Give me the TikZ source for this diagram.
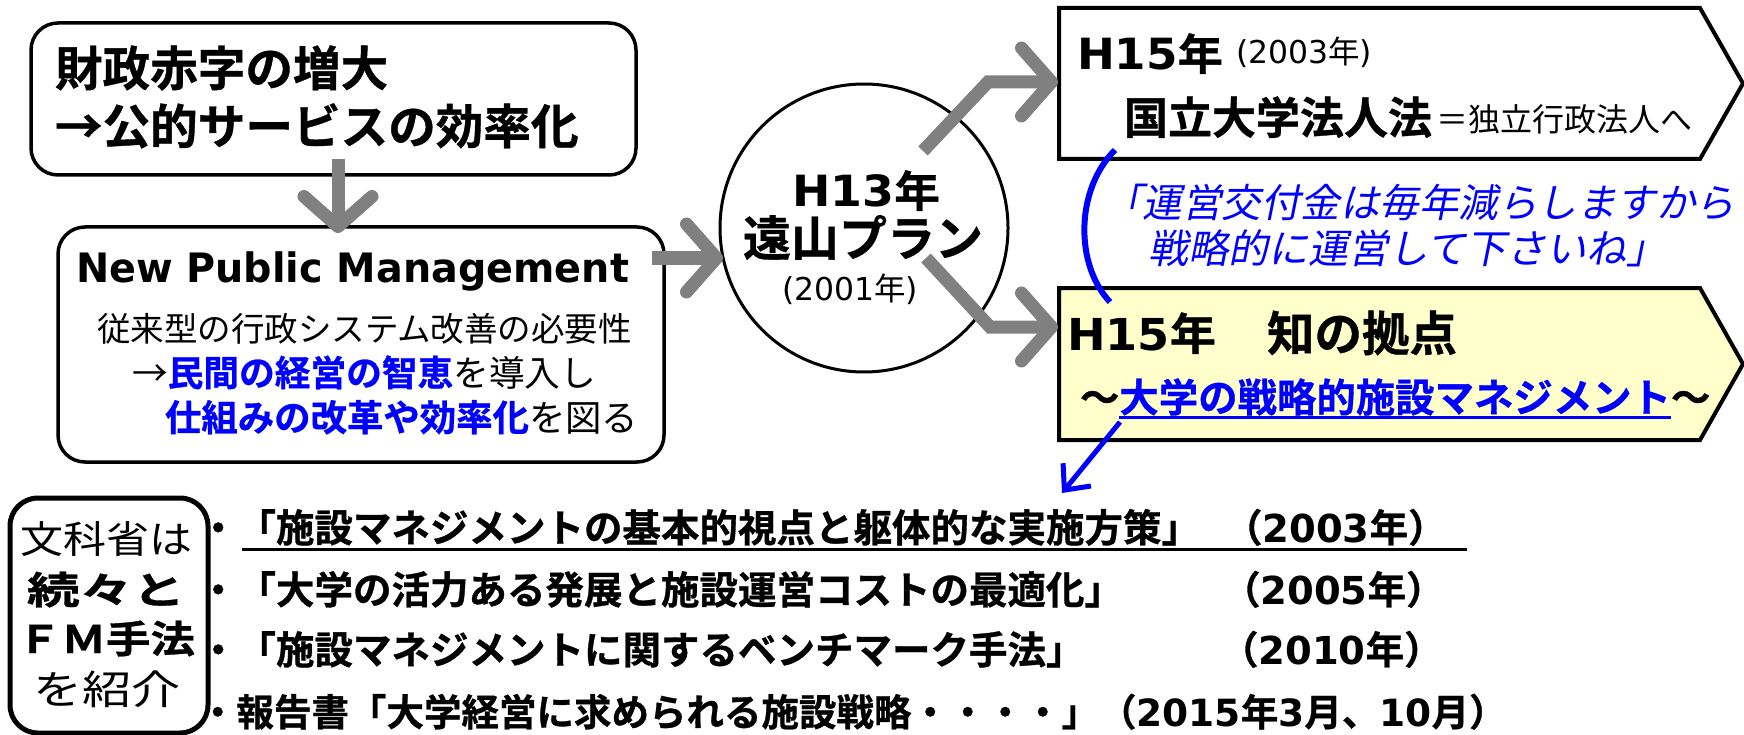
\documentclass[tikz,border=0pt]{standalone}
\usepackage{fontspec}
\usepackage{graphicx}
\setmainfont{Noto Sans CJK JP}[BoldFont={Noto Sans CJK JP Bold}, BoldFeatures={FakeBold=0.8}]
\newfontfamily\jpsl{Noto Sans CJK JP}[FakeSlant=0.2]
\newfontfamily\latf{DejaVu Sans}
\usetikzlibrary{arrows.meta,calc}
\definecolor{arrgrey}{HTML}{808080}
\definecolor{pblue}{HTML}{0000FF}
\definecolor{pyellow}{HTML}{FFFFCC}
\newcommand\fsz[1]{\fontsize{#1}{#1}\selectfont}
\newcommand\fitw[2]{\resizebox{#1pt}{\height}{#2}}
\begin{document}
\begin{tikzpicture}[x=1pt,y=-1pt,
  txt/.style={inner sep=0pt, outer sep=0pt},
  rbox/.style={draw=black, line width=3.5pt, rounded corners=27pt, fill=white, inner sep=0pt},
  garrow/.style={draw=arrgrey, line width=13pt, -{Straight Barb[length=30pt,width=68pt,round]}},
  barrow/.style={draw=pblue, line width=5pt, -{Straight Barb[length=20pt,width=36pt]}},
  pent/.style={draw=black, line width=4pt, line join=miter},
]
\useasboundingbox (0,0) rectangle (1744,735);

% ---- top-left box
\node[rbox, minimum width=605pt, minimum height=152pt] (topbox) at (333.5,99) {};
\node[txt, anchor=base west, font={\bfseries\fsz{47.6}}] (t1) at (55,86) {財政赤字の増大};
\node[txt, anchor=base west, font={\bfseries\fsz{47.6}}] (t2) at (55,144) {→公的サービスの効率化};

% ---- NPM box
\node[rbox, minimum width=606pt, minimum height=235pt] (npm) at (361,344.5) {};
\node[txt, anchor=base west, font={\latf\bfseries\fsz{40.5}}] (npmt) at (76,282) {\fitw{553}{New Public Management}};
\node[txt, anchor=base west, font={\fsz{33.5}}] (n1) at (97,341) {従来型の行政システム改善の必要性};
\node[txt, anchor=base west, font={\fsz{35.7}}] (n2) at (132,386) {→{\bfseries\color{pblue}民間の経営の智恵}を導入し};
\node[txt, anchor=base west, font={\fsz{36.4}}] (n3) at (165,431) {{\bfseries\color{pblue}仕組みの改革や効率化}を図る};

% ---- circle
\node[draw, line width=3pt, circle, minimum size=288pt, inner sep=0pt] (plan) at (864,228) {};
\node[txt, anchor=base, font={\bfseries\fsz{43}}] (p1) at (866,207) {\fitw{148}{{\latf H13}年}};
\node[txt, anchor=base, font={\bfseries\fsz{48}}] (p2) at (863,256) {遠山プラン};
\node[txt, anchor=base, font={\fsz{31.5}}] (p3) at (850,300) {\fitw{136}{{\latf (2001}年{\latf )}}};

% ---- pentagons
\coordinate (pa1) at (1059,8);
\coordinate (pa2) at (1700,8);
\coordinate (pa3) at (1743,83.5);
\coordinate (pa4) at (1700,159);
\coordinate (pa5) at (1059,159);
\draw[pent, fill=white] (pa1) -- (pa2) -- (pa3) -- (pa4) -- (pa5) -- cycle;
\coordinate (pb1) at (1059,288);
\coordinate (pb2) at (1700,288);
\coordinate (pb3) at (1743,364);
\coordinate (pb4) at (1700,440);
\coordinate (pb5) at (1059,440);
\draw[pent, fill=pyellow] (pb1) -- (pb2) -- (pb3) -- (pb4) -- (pb5) -- cycle;

\node[txt, anchor=base west, font={\bfseries\fsz{43}}] (h15a) at (1077,70) {\fitw{146}{{\latf H15}年}};
\node[txt, anchor=base west, font={\fsz{31.5}}] (y2003) at (1236,64) {\fitw{136}{{\latf (2003}年{\latf )}}};
\node[txt, anchor=base west, font={\bfseries\fsz{44}}] (kokuritsu) at (1124,134) {国立大学法人法};
\node[txt, anchor=base west, font={\fsz{32}}] (dokuritsu) at (1436,132) {＝独立行政法人へ};

\node[txt, anchor=base west, font={\bfseries\fsz{44}}] (h15b) at (1067,350) {\fitw{149}{{\latf H15}年}};
\node[txt, anchor=base west, font={\bfseries\fsz{47.5}}] (chi) at (1267,351) {知の拠点};
\node[txt, anchor=base west, font={\bfseries\fsz{39.4}}] (wl) at (1080,412) {～};
\node[txt, anchor=base west, font={\bfseries\fsz{39.4}}, text=pblue] (senryaku) at (1119.4,412) {大学の戦略的施設マネジメント};
\node[txt, anchor=base west, font={\bfseries\fsz{39.4}}] (wr) at (1671,412) {～};
\draw[pblue, line width=3pt] ($(senryaku.base west)+(0,5.5)$) -- ($(senryaku.base east)+(0,5.5)$);

% ---- blue note
\node[txt, anchor=base west, font={\jpsl\fsz{39.5}}, text=pblue] (note1) at (1103,218) {「運営交付金は毎年減らしますから};
\node[txt, anchor=base west, font={\jpsl\fsz{40}}, text=pblue] (note2) at (1148,263) {戦略的に運営して下さいね」};
\coordinate (arcA) at (1115,150);
\coordinate (arcB) at (1110,302);
\draw[pblue, line width=6pt] (arcA) .. controls (1075,190) and (1075,265) .. (arcB);

% ---- bottom-left box
\node[rbox, line width=5pt, rounded corners=28pt, minimum width=198pt, minimum height=235pt] (mext) at (109,615.5) {};
\node[txt, anchor=base, font={\fsz{38}}] (m1) at (106,553) {\fitw{172}{文科省は}};
\node[txt, anchor=base, font={\bfseries\fsz{38}}] (m2) at (106,604) {\fitw{158}{続々と}};
\node[txt, anchor=base, font={\bfseries\fsz{38}}] (m3) at (106,653) {\fitw{178}{ＦＭ手法}};
\node[txt, anchor=base, font={\fsz{40}}] (m4) at (106.5,704) {\fitw{147}{を紹介}};

% ---- list
\node[txt, anchor=base west, font={\bfseries\fsz{38.5}}] (l1) at (199,542) {・「施設マネジメントの基本的視点と躯体的な実施方策」};
\node[txt, anchor=base west, font={\bfseries\fsz{38.5}}] (y1) at (1224,542) {（{\latf 2003}年）};
\node[txt, anchor=base west, font={\bfseries\fsz{38.5}}] (l2) at (199,604) {・「大学の活力ある発展と施設運営コストの最適化」};
\node[txt, anchor=base west, font={\bfseries\fsz{38.5}}] (y2) at (1222,604) {（{\latf 2005}年）};
\node[txt, anchor=base west, font={\bfseries\fsz{38.5}}] (l3) at (199,664) {・「施設マネジメントに関するベンチマーク手法」};
\node[txt, anchor=base west, font={\bfseries\fsz{38.5}}] (y3) at (1220,664) {（{\latf 2010}年）};
\node[txt, anchor=base west, font={\bfseries\fsz{37.5}}] (l4) at (199,726) {・報告書「大学経営に求められる施設戦略・・・・」（{\latf 2015}年{\latf 3}月、{\latf 10}月）};
\coordinate (ulA) at (242,549);
\coordinate (ulB) at (1467,549);
\draw[black, line width=3pt] (ulA) -- (ulB);

% ---- grey arrows (on top)
\coordinate (d1s) at (338,159);
\coordinate (d1e) at (338,233);
\draw[garrow] (d1s) -- (d1e);
\coordinate (h1s) at (652,258);
\coordinate (h1e) at (723,258);
\draw[garrow] (h1s) -- (h1e);
\coordinate (u1s) at (923,151);
\coordinate (u1m) at (988,82);
\coordinate (u1e) at (1058,82);
\draw[garrow] (u1s) -- (u1m) -- (u1e);
\coordinate (w1s) at (926,258);
\coordinate (w1m) at (990,327);
\coordinate (w1e) at (1058,327);
\draw[garrow] (w1s) -- (w1m) -- (w1e);

% ---- blue arrow
\coordinate (bas) at (1120,422);
\coordinate (bae) at (1062,493);
\draw[barrow] (bas) -- (bae);
\end{tikzpicture}
\end{document}
